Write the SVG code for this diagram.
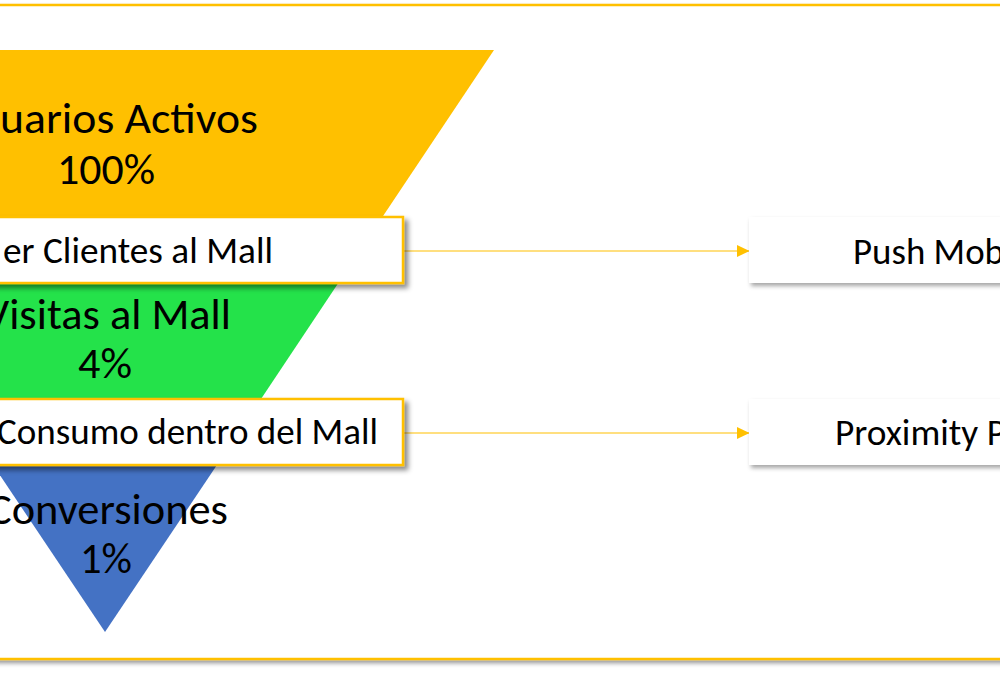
<svg xmlns="http://www.w3.org/2000/svg" width="1000" height="673" viewBox="0 0 1000 673">
  <defs>
    <filter id="shadow" x="-10%" y="-10%" width="130%" height="140%">
      <feDropShadow dx="4" dy="4" stdDeviation="2.5" flood-color="#000" flood-opacity="0.45"/>
    </filter>
    <filter id="softshadow" x="-10%" y="-20%" width="130%" height="160%">
      <feDropShadow dx="2" dy="3" stdDeviation="2" flood-color="#000" flood-opacity="0.35"/>
    </filter>
    <filter id="frameshadow" x="-5%" y="-5%" width="110%" height="110%">
      <feDropShadow dx="0" dy="3" stdDeviation="2" flood-color="#000" flood-opacity="0.4"/>
    </filter>
    <marker id="arrow" viewBox="0 0 12 12" refX="12" refY="6" markerWidth="12" markerHeight="12" markerUnits="userSpaceOnUse" orient="auto">
      <path d="M0,0 L12.5,6 L0,12 Z" fill="#FFC000"/>
    </marker>
  </defs>
  <style>
    text { font-family: "Carlito", "Lato", "Liberation Sans", sans-serif; fill: #000; }
    .big { font-size: 44px; }
    .lbl { font-size: 37px; }
    .box { fill: #fff; stroke: #FFC000; stroke-width: 2.5; }
    .tbox { fill: #fff; }
    .conn { stroke: #FFC000; stroke-width: 1.2; fill: none; }
  </style>
  <rect width="1000" height="673" fill="#fff"/>
  <g id="frame">
    <rect x="-300" y="5" width="1600" height="654" fill="#fff" stroke="#FFC000" stroke-width="2.5" filter="url(#frameshadow)"/>
  </g>
  <g id="funnel-usuarios">
    <polygon points="-284,50 494,50 355,258 -145,258" fill="#FFC000"/>
    <text class="big" x="0" y="133" textLength="258" lengthAdjust="spacingAndGlyphs">uarios Activos</text>
    <text class="big" x="106" y="184" text-anchor="middle" textLength="98" lengthAdjust="spacingAndGlyphs">100%</text>
  </g>
  <g id="funnel-visitas">
    <polygon points="-145,258 355,258 231,444 -21,444" fill="#24E24A"/>
    <text class="big" x="-16" y="329" textLength="247" lengthAdjust="spacingAndGlyphs">Visitas al Mall</text>
    <text class="big" x="105" y="378" text-anchor="middle" textLength="54" lengthAdjust="spacingAndGlyphs">4%</text>
  </g>
  <g id="funnel-conversiones">
    <polygon points="-21,444 231,444 105,632" fill="#4472C4"/>
    <text class="big" x="-12" y="524" textLength="240" lengthAdjust="spacingAndGlyphs">Conversiones</text>
    <text class="big" x="106" y="573" text-anchor="middle" textLength="52" lengthAdjust="spacingAndGlyphs">1%</text>
  </g>
  <g id="connectors">
    <line class="conn" x1="404" y1="251" x2="749" y2="251" marker-end="url(#arrow)"/>
    <line class="conn" x1="404" y1="433" x2="749" y2="433" marker-end="url(#arrow)"/>
  </g>
  <g id="atraer">
    <rect class="box" x="-300" y="217" width="703" height="66" filter="url(#shadow)"/>
    <text class="lbl" x="3" y="263" textLength="270" lengthAdjust="spacingAndGlyphs">er Clientes al Mall</text>
  </g>
  <g id="consumo">
    <rect class="box" x="-300" y="399" width="703" height="66" filter="url(#shadow)"/>
    <text class="lbl" x="-3" y="444" textLength="381" lengthAdjust="spacingAndGlyphs">Consumo dentro del Mall</text>
  </g>
  <g id="push">
    <rect class="tbox" x="749" y="217" width="400" height="66" filter="url(#softshadow)"/>
    <text class="lbl" x="853" y="264" textLength="151" lengthAdjust="spacingAndGlyphs">Push Mob</text>
  </g>
  <g id="proximity">
    <rect class="tbox" x="749" y="399" width="400" height="66" filter="url(#softshadow)"/>
    <text class="lbl" x="835" y="445" textLength="171" lengthAdjust="spacingAndGlyphs">Proximity P</text>
  </g>
</svg>
